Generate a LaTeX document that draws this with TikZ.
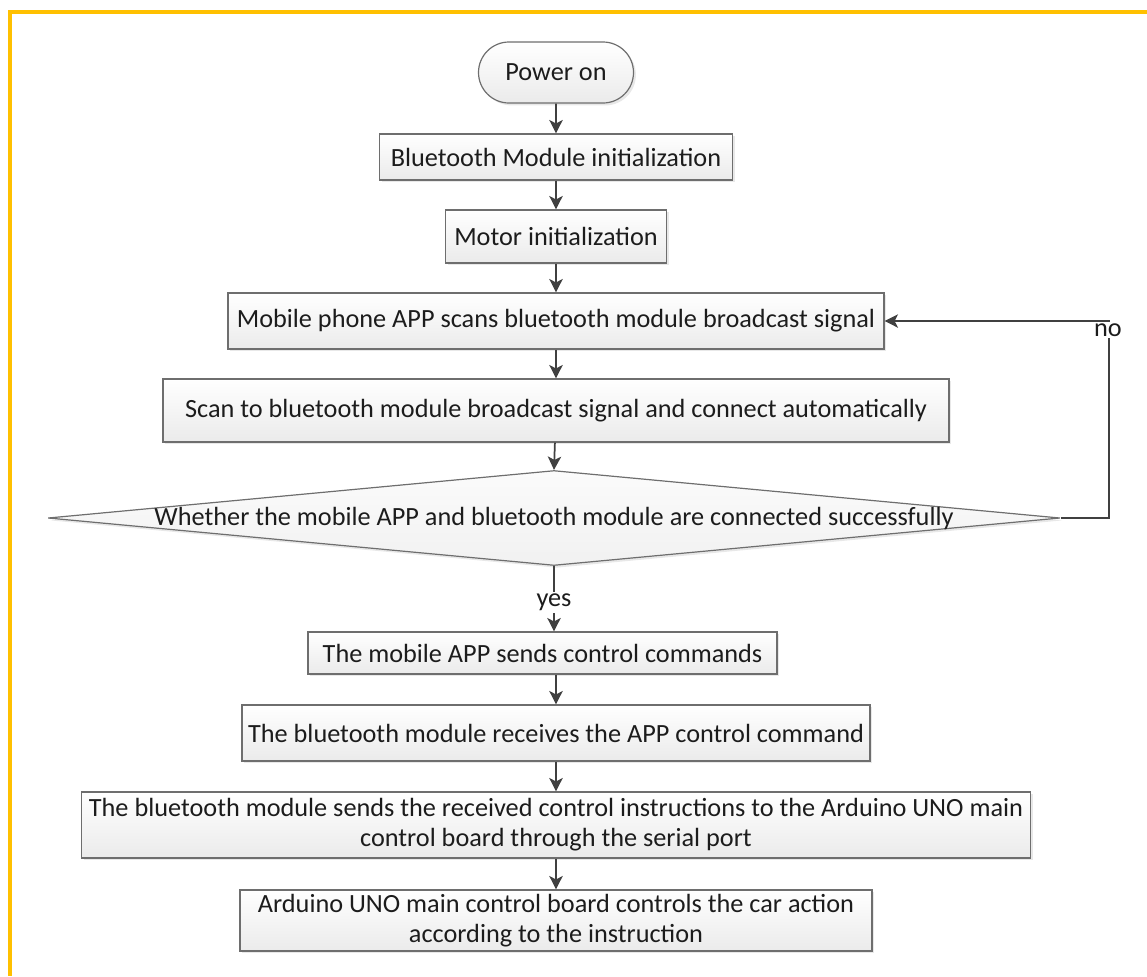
\documentclass[tikz,border=0pt]{standalone}
\usepackage{fontspec}
\setmainfont{Carlito}
\usepackage{xcolor}
\usepackage{tikz}
\usetikzlibrary{shadows,shadings}
\usetikzlibrary{arrows.meta}
\usetikzlibrary{shapes,shapes.geometric,shapes.misc}

\definecolor{frameyellow}{HTML}{FFC000}
\definecolor{linegray}{HTML}{404040}
\definecolor{edgegray}{HTML}{6E6E6E}
\definecolor{txtgray}{HTML}{1C1C1C}

\tikzset{
	box/.style={draw=edgegray, line width=0.9pt, top color=white, bottom color=gray!16,
		drop shadow={shadow xshift=1.8pt, shadow yshift=-1.8pt, opacity=0.18},
		inner sep=0pt, align=center, text=txtgray},
	term/.style={box, rounded rectangle},
	decision/.style={box, diamond, top color=gray!3, bottom color=gray!11},
	flow/.style={draw=linegray, line width=1.3pt, -{Stealth[length=10pt, width=10pt, inset=2.5pt]}},
	lbl/.style={fill=white, inner sep=1.5pt, text=txtgray},
}

\begin{document}
\begin{tikzpicture}[x=0.75pt, y=-0.75pt, font=\fontsize{19.7pt}{22.5pt}\selectfont]
	\useasboundingbox (0,0) rectangle (1147,976);
	\draw[frameyellow, line width=3pt] (9.5,976) -- (9.5,12) -- (1147,12);
	
	\node[term, minimum width=116.25pt, minimum height=45.75pt] (pwr) at (556,72.5) {Power on};
	\node[box, minimum width=264.75pt, minimum height=34.5pt] (bt) at (556,157) {Bluetooth Module initialization};
	\node[box, minimum width=165.75pt, minimum height=39.75pt] (mot) at (556,236.5) {Motor initialization};
	\node[box, minimum width=492pt, minimum height=42pt] (scan) at (556,321) {Mobile phone APP scans bluetooth module broadcast signal};
	\node[box, minimum width=589.5pt, minimum height=47.25pt] (conn) at (556,410.5) {Scan to bluetooth module broadcast signal and connect automatically};
	\node[decision, minimum width=759pt, minimum height=71.25pt] (chk) at (554,518) {\makebox[0pt]{Whether the mobile APP and bluetooth module are connected successfully}};
	\node[box, minimum width=351.75pt, minimum height=31.5pt] (send) at (542.5,653) {The mobile APP sends control commands};
	\node[box, minimum width=471pt, minimum height=42pt] (recv) at (556,733) {The bluetooth module receives the APP control command};
	\node[box, minimum width=711.75pt, minimum height=49.5pt] (ser) at (556,825) {The bluetooth module sends the received control instructions to the Arduino UNO main\\control board through the serial port};
	\node[box, minimum width=474pt, minimum height=45.75pt] (car) at (556,920.5) {Arduino UNO main control board controls the car action\\according to the instruction};
	
	\draw[flow] (pwr) -- (bt);
	\draw[flow] (bt) -- (mot);
	\draw[flow] (mot) -- (scan);
	\draw[flow] (scan) -- (conn);
	\draw[flow] (conn) -- (chk.north);
	\draw[flow] (chk.south) -- node[lbl, pos=0.55] (yes) {yes} (chk.south |- send.north);
	\draw[flow] (send.south -| recv) -- (recv);
	\draw[flow] (recv) -- (ser);
	\draw[flow] (ser) -- (car);
	
	\coordinate (back) at (1109,321);
	\draw[flow] (chk.east) -| (back) -- (scan);
	\node[lbl] (no) at (1108,330) {no};
	
\end{tikzpicture}
\end{document}
